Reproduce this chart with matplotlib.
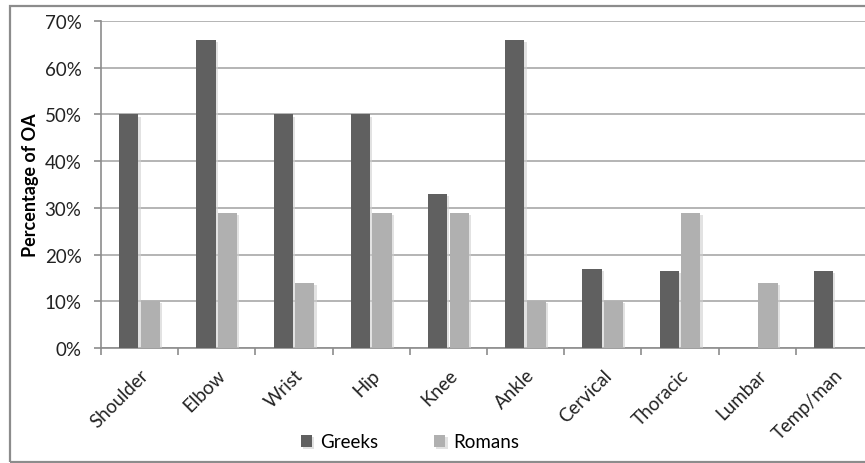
import matplotlib
matplotlib.use("Agg")
import matplotlib.pyplot as plt
import matplotlib.patheffects as pe
from matplotlib.patches import Rectangle
import numpy as np

categories = ["Shoulder", "Elbow", "Wrist", "Hip", "Knee", "Ankle",
              "Cervical", "Thoracic", "Lumbar", "Temp/man"]
greeks = [0.50, 0.66, 0.50, 0.50, 0.33, 0.66, 0.17, 0.165, np.nan, 0.165]
romans = [0.10, 0.29, 0.14, 0.29, 0.29, 0.10, 0.10, 0.29, 0.14, np.nan]
yticks = [0, 0.1, 0.2, 0.3, 0.4, 0.5, 0.6, 0.7]

plt.rcParams['font.family'] = ['Lato', 'DejaVu Sans']

W, H = 865, 464
fig = plt.figure(figsize=(W / 100, H / 100), dpi=100)
# outer chart border
fig.patches.append(Rectangle((10 / W, 0.002), 1.2, 1 - 0.002 - 7 / H,
                             transform=fig.transFigure, fill=False,
                             edgecolor="#8c8c8c", linewidth=1.6))

ax = fig.add_axes([101 / W, 1 - 349 / H, 772 / W, 327 / H])

x = np.arange(len(categories))
shadow = [pe.SimplePatchShadow(offset=(1.5, -1.5), shadow_rgbFace="#d0d0d0", alpha=0.6), pe.Normal()]
b1 = ax.bar(x - 0.14, greeks, width=0.25, color="#606060", label="Greeks", zorder=3)
b2 = ax.bar(x + 0.14, romans, width=0.25, color="#b0b0b0", label="Romans", zorder=3)
for b in list(b1) + list(b2):
    b.set_path_effects(shadow)

ax.set_xlim(-0.5, len(categories) - 0.5)
ax.set_ylim(0, 0.7)
ax.set_yticks(yticks)
ax.set_yticklabels([f"{int(round(v * 100))}%" for v in yticks], fontsize=13.5, color="#222222")
ax.yaxis.grid(True, color="#a8a8a8", linewidth=1.2, zorder=0)
ax.set_axisbelow(True)

ax.set_xticks(x)
ax.set_xticklabels(categories, rotation=45, ha="right", rotation_mode="anchor",
                   fontsize=13.5, color="#222222")
ax.tick_params(axis="x", which="major", length=0, pad=13)
ax.set_xticks(np.arange(len(categories) + 1) - 0.5, minor=True)
ax.tick_params(axis="x", which="minor", length=5, color="#8c8c8c", width=1.2)
ax.tick_params(axis="y", length=5, color="#8c8c8c", width=1.2, pad=9)

for s in ["top", "right"]:
    ax.spines[s].set_visible(False)
for s in ["left", "bottom"]:
    ax.spines[s].set_color("#8c8c8c")
    ax.spines[s].set_linewidth(1.2)

ax.set_ylabel("Percentage of OA", fontsize=13, fontweight="bold", labelpad=4)

fig.legend(handles=[b1, b2], labels=["Greeks", "Romans"], loc="center",
           bbox_to_anchor=(410 / W, 1 - 443 / H), ncol=2, frameon=False,
           fontsize=13.5, handlelength=0.6, handleheight=0.6, columnspacing=3.0,
           handletextpad=0.4)

fig.savefig("out.png", dpi=100)
